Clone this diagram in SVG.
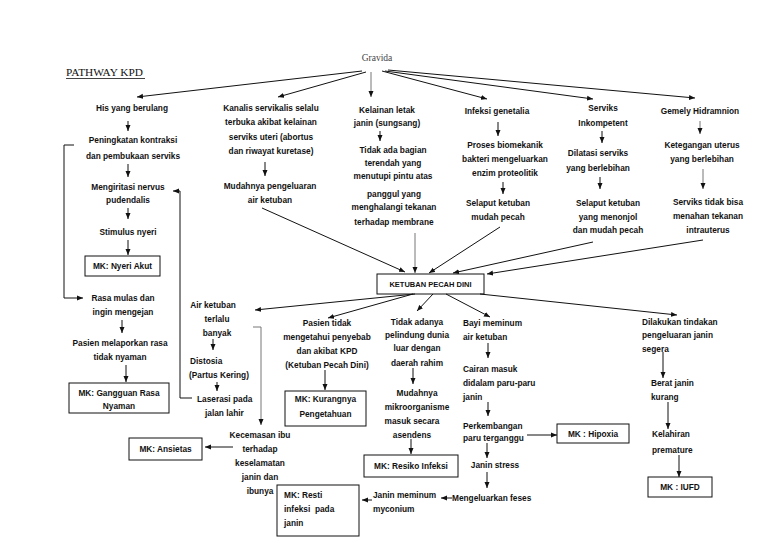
<svg xmlns="http://www.w3.org/2000/svg" width="768" height="543" viewBox="0 0 768 543">
<style>
text{font-family:"Liberation Sans",Arial,sans-serif;font-size:8.3px;font-weight:bold;fill:#111}
.m{text-anchor:middle}
.s{text-anchor:start}
.serif{font-family:"Liberation Serif","Times New Roman",serif;font-weight:normal}
.box{fill:#fff;stroke:#111;stroke-width:1}
.c line,.c polyline{stroke:#111;stroke-width:1;fill:none;marker-end:url(#ah)}
.c .g{stroke:#777}
</style>
<defs>
<marker id="ah" markerWidth="6" markerHeight="6" refX="6" refY="3" orient="auto" markerUnits="userSpaceOnUse">
<path d="M0,0.5 L6,3 L0,5.5 z" fill="#111"/>
</marker>
</defs>
<rect width="768" height="543" fill="#fff"/>
<g id="title">
<text class="serif s" x="66" y="76" style="font-size:11.3px">PATHWAY KPD</text>
<line x1="66" y1="78.5" x2="145" y2="78.5" stroke="#111" stroke-width="0.8"/>
</g>
<g id="gravida"><text class="serif m" x="377" y="61" style="font-size:9.5px;fill:#444">Gravida</text></g>

<g id="his"><text class="m" x="132" y="111">His yang berulang</text></g>
<g id="peningkatan"><text class="m" x="133" y="143">Peningkatan kontraksi</text><text class="m" x="133" y="159">dan pembukaan serviks</text></g>
<g id="mengiritasi"><text class="m" x="128" y="190">Mengiritasi nervus</text><text class="m" x="128" y="203">pudendalis</text></g>
<g id="stimulus"><text class="m" x="128" y="235">Stimulus nyeri</text></g>
<g id="mk-nyeri"><rect class="box" x="85" y="256" width="75" height="20"/><text class="m" x="122.5" y="269">MK: Nyeri Akut</text></g>
<g id="rasa-mulas"><text class="m" x="123" y="301">Rasa mulas dan</text><text class="m" x="123" y="315">ingin mengejan</text></g>
<g id="pasien-lapor"><text class="m" x="120" y="346">Pasien melaporkan rasa</text><text class="m" x="120" y="360">tidak nyaman</text></g>
<g id="mk-gangguan"><rect class="box" x="69" y="383" width="100" height="30"/><text class="m" x="119" y="396">MK: Gangguan Rasa</text><text class="m" x="119" y="409">Nyaman</text></g>

<g id="kanalis"><text class="m" x="271" y="111">Kanalis servikalis selalu</text><text class="m" x="271" y="125">terbuka akibat kelainan</text><text class="m" x="271" y="140">serviks uteri (abortus</text><text class="m" x="271" y="154">dan riwayat kuretase)</text></g>
<g id="mudahnya-keluar"><text class="m" x="270" y="189">Mudahnya pengeluaran</text><text class="m" x="270" y="203">air ketuban</text></g>

<g id="kelainan"><text class="m" x="387" y="113">Kelainan letak</text><text class="m" x="387" y="126">janin (sungsang)</text></g>
<g id="tidak-bagian"><text class="m" x="393" y="153">Tidak ada bagian</text><text class="m" x="393" y="166">terendah yang</text><text class="m" x="393" y="179">menutupi pintu atas</text><text class="m" x="394" y="197">panggul yang</text><text class="m" x="394" y="210">menghalangi tekanan</text><text class="m" x="394" y="225">terhadap membrane</text></g>

<g id="infeksi"><text class="m" x="497" y="114">Infeksi genetalia</text></g>
<g id="proses"><text class="m" x="505" y="148">Proses biomekanik</text><text class="m" x="505" y="162">bakteri mengeluarkan</text><text class="m" x="505" y="176">enzim proteolitik</text></g>
<g id="selaput1"><text class="m" x="498" y="206">Selaput ketuban</text><text class="m" x="498" y="220">mudah pecah</text></g>

<g id="serviks"><text class="m" x="603" y="111">Serviks</text><text class="m" x="603" y="126">Inkompetent</text></g>
<g id="dilatasi"><text class="m" x="598" y="156">Dilatasi serviks</text><text class="m" x="598" y="171">yang berlebihan</text></g>
<g id="selaput2"><text class="m" x="608" y="206">Selaput ketuban</text><text class="m" x="608" y="220">yang menonjol</text><text class="m" x="608" y="233">dan mudah pecah</text></g>

<g id="gemely"><text class="m" x="700" y="114">Gemely Hidramnion</text></g>
<g id="ketegangan"><text class="m" x="702" y="148">Ketegangan uterus</text><text class="m" x="702" y="162">yang berlebihan</text></g>
<g id="serviks-tidak"><text class="m" x="708" y="205">Serviks tidak bisa</text><text class="m" x="708" y="219">menahan tekanan</text><text class="m" x="708" y="233">intrauterus</text></g>

<g id="kpd"><rect class="box" x="377" y="274" width="107" height="20"/><text class="m" x="430.5" y="287" style="font-size:7.5px">KETUBAN PECAH DINI</text></g>

<g id="air-banyak"><text class="m" x="213" y="308">Air ketuban</text><text class="m" x="217" y="322">terlalu</text><text class="m" x="217" y="336">banyak</text></g>
<g id="distosia"><text class="s" x="190" y="364">Distosia</text><text class="s" x="189" y="378">(Partus Kering)</text></g>
<g id="laserasi"><text class="s" x="197" y="402">Laserasi pada</text><text class="s" x="205" y="416">jalan lahir</text></g>
<g id="kecemasan"><text class="m" x="260" y="438">Kecemasan ibu</text><text class="m" x="260" y="452">terhadap</text><text class="m" x="260" y="466">keselamatan</text><text class="m" x="260" y="480">janin dan</text><text class="m" x="260" y="494">ibunya</text></g>
<g id="mk-ansietas"><rect class="box" x="129" y="438" width="73" height="22"/><text class="m" x="165.5" y="452">MK: Ansietas</text></g>

<g id="pasien-tidak"><text class="m" x="327" y="326">Pasien tidak</text><text class="m" x="327" y="340">mengetahui penyebab</text><text class="m" x="327" y="354">dan akibat KPD</text><text class="m" x="327" y="368">(Ketuban Pecah Dini)</text></g>
<g id="mk-kurang"><rect class="box" x="285" y="391" width="81" height="35"/><text class="m" x="325.5" y="402">MK: Kurangnya</text><text class="m" x="325.5" y="417">Pengetahuan</text></g>

<g id="tidak-pelindung"><text class="m" x="417" y="325">Tidak adanya</text><text class="m" x="417" y="338">pelindung dunia</text><text class="m" x="417" y="351">luar dengan</text><text class="m" x="417" y="366">daerah rahim</text></g>
<g id="mudahnya-mikro"><text class="m" x="417" y="396">Mudahnya</text><text class="m" x="417" y="410">mikroorganisme</text><text class="m" x="412" y="424">masuk secara</text><text class="m" x="412" y="438">asendens</text></g>
<g id="mk-resiko"><rect class="box" x="364" y="455" width="94" height="22"/><text class="m" x="411" y="469">MK: Resiko Infeksi</text></g>

<g id="bayi"><text class="s" x="463" y="326">Bayi meminum</text><text class="s" x="463" y="340">air ketuban</text></g>
<g id="cairan"><text class="s" x="463" y="372">Cairan masuk</text><text class="s" x="463" y="386">didalam paru-paru</text><text class="s" x="463" y="400">janin</text></g>
<g id="perkembangan"><text class="s" x="463" y="429">Perkembangan</text><text class="s" x="463" y="441">paru terganggu</text></g>
<g id="mk-hipoxia"><rect class="box" x="557" y="424" width="72" height="19"/><text class="m" x="593" y="437">MK : Hipoxia</text></g>
<g id="janin-stress"><text class="m" x="495" y="468">Janin stress</text></g>
<g id="feses"><text class="s" x="452" y="501">Mengeluarkan feses</text></g>
<g id="janin-myconium"><text class="s" x="373" y="498">Janin meminum</text><text class="s" x="373" y="512">myconium</text></g>
<g id="mk-resti"><rect class="box" x="277" y="485" width="82" height="51"/><text class="s" x="284" y="498">MK: Resti</text><text class="s" x="284" y="512" xml:space="preserve">infeksi  pada</text><text class="s" x="284" y="526">janin</text></g>

<g id="dilakukan"><text class="s" x="642" y="325">Dilakukan tindakan</text><text class="s" x="642" y="338">pengeluaran janin</text><text class="s" x="642" y="352">segera</text></g>
<g id="berat"><text class="s" x="651" y="386">Berat janin</text><text class="s" x="651" y="400">kurang</text></g>
<g id="kelahiran"><text class="s" x="652" y="437">Kelahiran</text><text class="s" x="652" y="453">premature</text></g>
<g id="mk-iufd"><rect class="box" x="648" y="477" width="64" height="20"/><text class="m" x="680" y="490">MK : IUFD</text></g>

<g id="connectors" class="c">
<line x1="362" y1="71" x2="137" y2="97"/>
<line x1="366" y1="72" x2="278" y2="97"/>
<line class="g" x1="371" y1="72" x2="371" y2="97"/>
<line x1="382" y1="71" x2="487" y2="99"/>
<line x1="385" y1="71" x2="593" y2="99"/>
<line x1="388" y1="70" x2="695" y2="98"/>

<line x1="128" y1="121" x2="128" y2="131"/>
<line x1="128" y1="164" x2="128" y2="177"/>
<line x1="128" y1="208" x2="128" y2="219"/>
<line x1="128" y1="240" x2="128" y2="255"/>
<polyline points="74,145 64,145 64,298 83,298"/>
<line x1="122" y1="320" x2="122" y2="333"/>
<line x1="126" y1="365" x2="126" y2="382"/>
<polyline points="192,398 180,398 180,191 173,191"/>

<line x1="265" y1="162" x2="265" y2="176"/>
<line x1="262" y1="208" x2="405" y2="272"/>
<line x1="380" y1="131" x2="380" y2="141"/>
<line class="g" x1="415" y1="233" x2="415" y2="273"/>
<line x1="498" y1="122" x2="498" y2="136"/>
<line x1="503" y1="182" x2="503" y2="194"/>
<line x1="500" y1="227" x2="429" y2="273"/>
<line x1="602" y1="131" x2="602" y2="143"/>
<line x1="600" y1="177" x2="600" y2="189"/>
<line x1="593" y1="242" x2="453" y2="273"/>
<line class="g" x1="700" y1="121" x2="700" y2="134"/>
<line class="g" x1="703" y1="169" x2="703" y2="189"/>
<line x1="703" y1="240" x2="487" y2="274"/>

<line x1="415" y1="294" x2="255" y2="310"/>
<line x1="413" y1="294" x2="328" y2="318"/>
<line x1="433" y1="294" x2="417" y2="311"/>
<line x1="446" y1="294" x2="490" y2="317"/>
<line x1="480" y1="294" x2="677" y2="315"/>

<line x1="213" y1="339" x2="213" y2="350"/>
<line x1="217" y1="382" x2="217" y2="391"/>
<polyline class="g" points="253,327 261,327 261,425"/>
<line x1="233" y1="447" x2="205" y2="447"/>
<line x1="325" y1="370" x2="325" y2="390"/>
<line x1="413" y1="368" x2="413" y2="384"/>
<line x1="411" y1="439" x2="411" y2="454"/>
<line x1="488" y1="343" x2="488" y2="358"/>
<line x1="488" y1="402" x2="488" y2="416"/>
<line x1="527" y1="435" x2="557" y2="435"/>
<line x1="487" y1="443" x2="487" y2="458"/>
<line x1="487" y1="472" x2="487" y2="488"/>
<line x1="452" y1="498" x2="441" y2="498"/>
<line x1="372" y1="500" x2="362" y2="500"/>
<line x1="663" y1="352" x2="663" y2="378"/>
<line x1="668" y1="402" x2="668" y2="429"/>
<line x1="679" y1="455" x2="679" y2="477"/>
</g>
</svg>
